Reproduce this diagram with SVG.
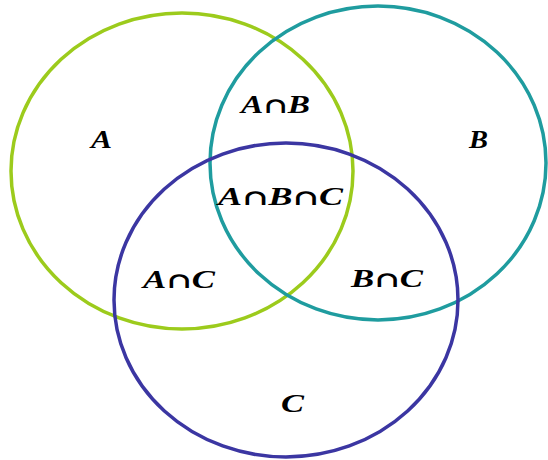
<svg xmlns="http://www.w3.org/2000/svg" width="548" height="460" viewBox="0 0 548 460">
<style>
.set{fill:none;stroke-width:3.5}
.lbl{font-family:"Liberation Serif","DejaVu Serif",serif;font-weight:bold;font-style:italic;font-size:25px;fill:#000}
.cap{font-family:"DejaVu Serif",serif;font-style:normal;font-weight:bold;font-size:22px}
</style>
<rect width="548" height="460" fill="#fff"/>
<g id="setA"><ellipse class="set" cx="182" cy="171" rx="171" ry="158" stroke="#9ccb1c"/></g>
<g id="setB"><ellipse class="set" cx="378" cy="163" rx="168" ry="157" stroke="#1f9c9f"/></g>
<g id="setC"><ellipse class="set" cx="286" cy="300" rx="172" ry="157" stroke="#3b36a2"/></g>
<g id="labels">
<text class="lbl" x="91" y="148" textLength="21" lengthAdjust="spacingAndGlyphs">A</text>
<text class="lbl" x="469" y="148" textLength="19" lengthAdjust="spacingAndGlyphs">B</text>
<text class="lbl" x="241" y="113" textLength="69" lengthAdjust="spacingAndGlyphs">A<tspan class="cap">∩</tspan>B</text>
<text class="lbl" x="218" y="205" textLength="125" lengthAdjust="spacingAndGlyphs">A<tspan class="cap">∩</tspan>B<tspan class="cap">∩</tspan>C</text>
<text class="lbl" x="143" y="288" textLength="72" lengthAdjust="spacingAndGlyphs">A<tspan class="cap">∩</tspan>C</text>
<text class="lbl" x="351" y="287" textLength="72" lengthAdjust="spacingAndGlyphs">B<tspan class="cap">∩</tspan>C</text>
<text class="lbl" x="281" y="412" textLength="23" lengthAdjust="spacingAndGlyphs">C</text>
</g>
</svg>
